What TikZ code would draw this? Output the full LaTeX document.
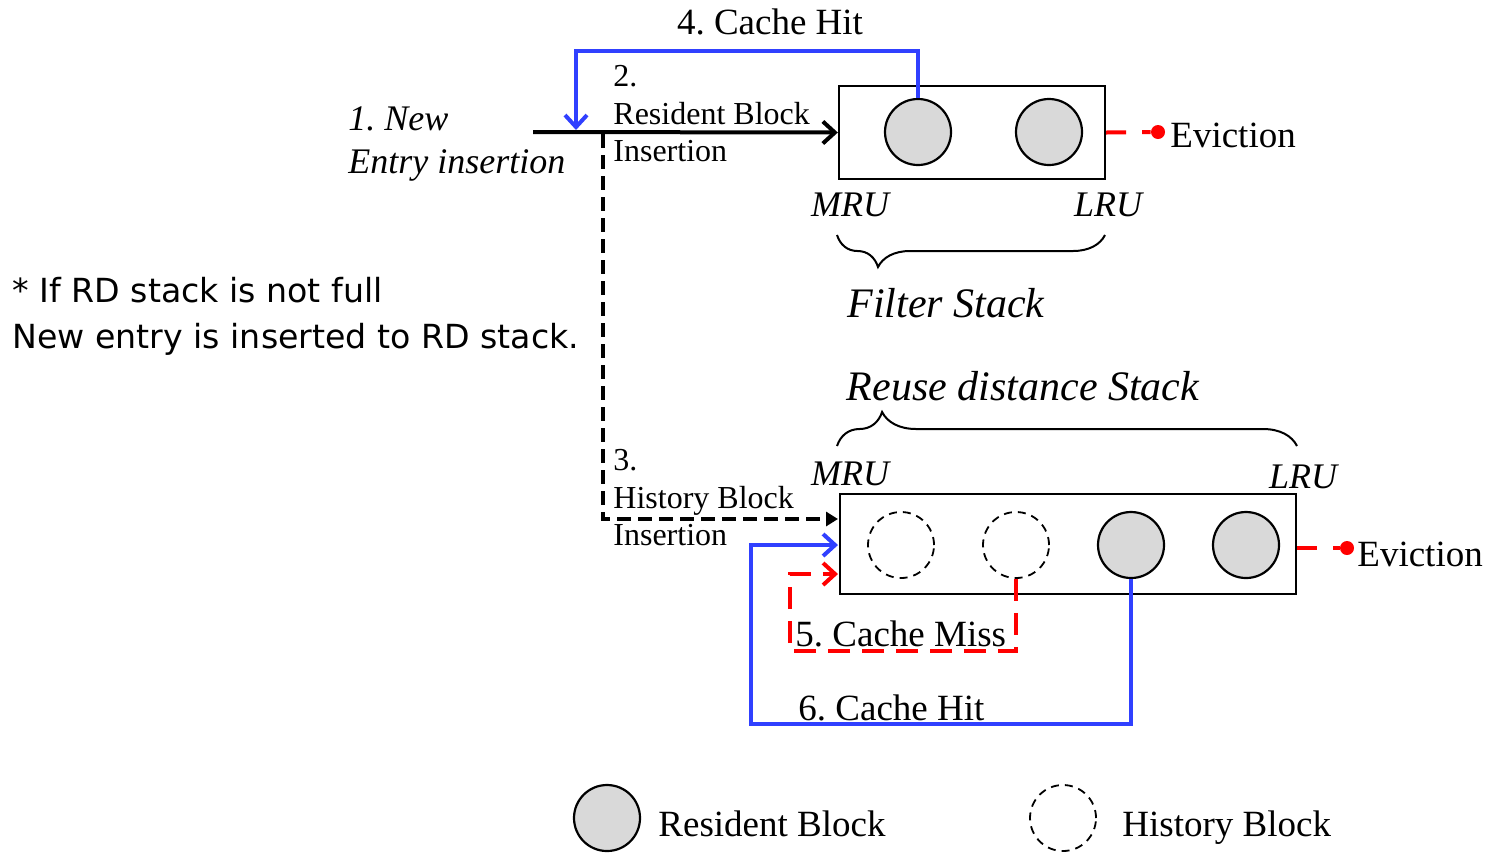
\documentclass[tikz,border=0pt]{standalone}
\usepackage{fontspec}
\setmainfont{Liberation Serif}
\newfontfamily\notefont{DejaVu Sans}
\usetikzlibrary{arrows.meta,decorations.pathreplacing}
\definecolor{hitblue}{RGB}{48,64,255}
\definecolor{blockgray}{RGB}{217,217,217}
\tikzset{
  stackbox/.style={draw,line width=1.2pt,rectangle,inner sep=0pt},
  resblock/.style={draw,line width=1.1pt,circle,fill=blockgray,minimum size=33pt,inner sep=0pt},
  hisblock/.style={draw,line width=0.9pt,circle,dash pattern=on 4pt off 3pt,minimum size=33pt,inner sep=0pt},
  mainlbl/.style={font=\fontsize{18.5}{21}\selectfont,inner sep=0pt,anchor=base west},
  smalllbl/.style={font=\fontsize{16}{18}\selectfont,inner sep=0pt,anchor=base west},
  itlbl/.style={font=\fontsize{18}{21}\selectfont\itshape,inner sep=0pt,anchor=base},
  bigit/.style={font=\fontsize{21}{24}\selectfont\itshape,inner sep=0pt,anchor=base},
  notelbl/.style={font=\notefont\fontsize{16.6}{19}\selectfont,inner sep=0pt,anchor=base west},
  blackarrow/.style={line width=2pt,-{Straight Barb[length=6pt,width=11pt,line width=2pt]}},
  bluearrow/.style={draw=hitblue,line width=2.1pt,-{Straight Barb[length=6pt,width=11pt,line width=2pt]}},
  dasharrow/.style={line width=2pt,dash pattern=on 7pt off 3.5pt,-{Triangle[length=6pt,width=7pt]}},
  redarrow/.style={draw=red,line width=2pt,dash pattern=on 11pt off 6pt,-{Straight Barb[length=6pt,width=11pt,line width=2pt]}},
  reddash/.style={draw=red,line width=2pt,dash pattern=on 10pt off 8pt},
  evdot/.style={circle,fill=red,minimum size=7pt,inner sep=0pt},
  bracestyle/.style={line width=1pt,decorate},
}
\begin{document}
\frenchspacing
\begin{tikzpicture}[x=0.5pt,y=-0.5pt]
\useasboundingbox (0,0) rectangle (1486,853);
% filter stack
\node[stackbox,minimum width=133pt,minimum height=46.5pt] (fbox) at (972,132.5) {};
\node[resblock] (f1) at (918,132) {};
\node[resblock] (f2) at (1049,132) {};
% RD stack
\node[stackbox,minimum width=228pt,minimum height=50pt] (rbox) at (1068,544) {};
\node[hisblock] (r1) at (901,545) {};
\node[hisblock] (r2) at (1016,545) {};
\node[resblock] (r3) at (1131,545) {};
\node[resblock] (r4) at (1246,545) {};
% coordinates
\coordinate (newstart) at (533,132);
\coordinate (hitend) at (576,130);
\coordinate (hittop) at (576,51);
\coordinate (dstart) at (603,134);
\coordinate (hisin) at (838,519);
\coordinate (c6) at (751,724);
\coordinate (rin6) at (838,545);
\coordinate (c5) at (790,651);
\coordinate (rin5) at (838,574);
% connectors
\draw[blackarrow] (newstart) -- (fbox.west);
\draw[bluearrow] (f1.north) |- (hittop) -- (hitend);
\draw[dasharrow] (dstart) |- (hisin);
\draw[bluearrow] (r3.south) |- (c6) |- (rin6);
\draw[redarrow] (r2.south) |- (c5) |- (rin5);
% evictions
\node[evdot] (ev1) at (1158,132) {};
\draw[reddash] (fbox.east) -- (ev1);
\node[mainlbl] (evt1) at (1170,147) {Eviction};
\node[evdot] (ev2) at (1347,548) {};
\draw[reddash] (rbox.east |- ev2) -- (ev2);
\node[mainlbl] (evt2) at (1357,566) {Eviction};
% braces
\draw[bracestyle,decoration={brace,amplitude=16pt,aspect=0.847}] (1105,235) -- (837,235);
\draw[bracestyle,decoration={brace,amplitude=17pt,aspect=0.098}] (837,446) -- (1297,446);
% labels
\node[mainlbl,anchor=base] (l4) at (770,34) {4. Cache Hit};
\node[smalllbl] (l2a) at (613,86) {2.};
\node[smalllbl] (l2b) at (613,124) {Resident Block};
\node[smalllbl] (l2c) at (613,161) {Insertion};
\node[itlbl,anchor=base west] (l1a) at (348,130) {1. New};
\node[itlbl,anchor=base west] (l1b) at (348,173) {Entry insertion};
\node[itlbl] (mru1) at (850,216) {MRU};
\node[itlbl] (lru1) at (1108,216) {LRU};
\node[bigit] (fs) at (946,317) {Filter Stack};
\node[bigit] (rs) at (1023,400) {Reuse distance Stack};
\node[itlbl] (mru2) at (850,485) {MRU};
\node[itlbl] (lru2) at (1303,488) {LRU};
\node[smalllbl] (l3a) at (613,470) {3.};
\node[smalllbl] (l3b) at (613,508) {History Block};
\node[smalllbl] (l3c) at (613,545) {Insertion};
\node[mainlbl] (l5) at (795,646) {5. Cache Miss};
\node[mainlbl] (l6) at (798,720) {6. Cache Hit};
\node[notelbl] (n1) at (12,302) {* If RD stack is not full};
\node[notelbl] (n2) at (12,348) {New entry is inserted to RD stack.};
% legend
\node[resblock] (legr) at (607,818) {};
\node[mainlbl] (legrt) at (658,836) {Resident Block};
\node[hisblock] (legh) at (1063,818) {};
\node[mainlbl] (leght) at (1122,836) {History Block};
\end{tikzpicture}
\end{document}
